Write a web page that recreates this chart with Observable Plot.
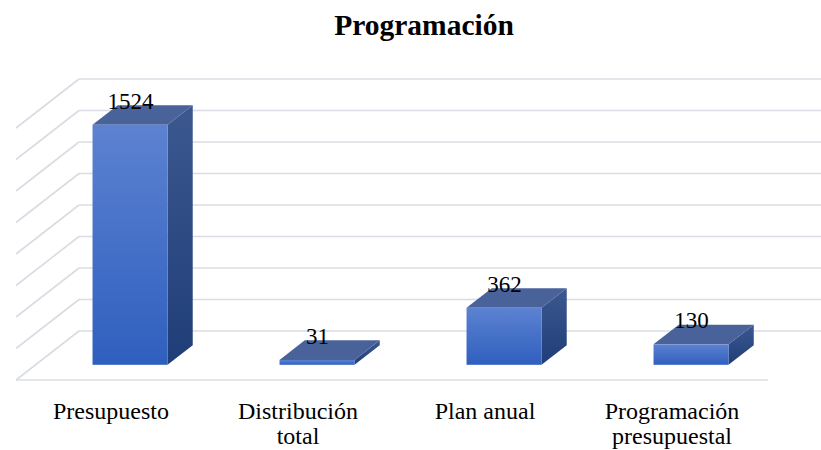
<!DOCTYPE html>
<html><head><meta charset="utf-8">
<script src="https://cdn.jsdelivr.net/npm/d3@7"></script>
<script src="https://cdn.jsdelivr.net/npm/@observablehq/plot@0.6"></script>
<style>
body{margin:0;background:#fff;}
#title{font:bold 29.5px "Liberation Serif","Times New Roman",serif;height:50px;line-height:50px;text-align:center;padding-left:27px;color:#000;}
#chart svg{display:block;}
</style></head><body>
<div id="title">Programación</div>
<div id="chart"></div>
<script>
const categories = ["Presupuesto", "Distribución\ntotal", "Plan anual", "Programación\npresupuestal"];
const values = [1524, 31, 362, 130];
const gridValues = [0, 200, 400, 600, 800, 1000, 1200, 1400, 1600];

// oblique 3D projection (styling constants)
const DEPTH_X = 63, DEPTH_Y = -49;
const BAR_FRONT = 0.31, BAR_BACK = 0.71;
const FONT = "'Liberation Serif','Times New Roman',serif";

const data = categories.map((c, i) => ({category: c, value: values[i]}));

function wallGrid(index, scales, channels, dims) {
  const {y} = scales;
  const L = dims.marginLeft, R = dims.width - dims.marginRight;
  const g = d3.create("svg:g").attr("fill", "none").attr("stroke", "#d9dce2").attr("stroke-width", 1.6);
  for (const i of index) {
    const v = gridValues[i];
    const yy = y(v);
    g.append("line").attr("x1", L + DEPTH_X).attr("x2", R + DEPTH_X).attr("y1", yy + DEPTH_Y).attr("y2", yy + DEPTH_Y);
    g.append("line").attr("x1", L).attr("x2", L + DEPTH_X).attr("y1", yy).attr("y2", yy + DEPTH_Y);
  }
  g.append("line").attr("x1", L).attr("x2", R + 2).attr("y1", y(0)).attr("y2", y(0));
  return g.node();
}

function bars3d(index, scales, channels, dims) {
  const {x, y} = scales;
  const bw = x.bandwidth();
  const g = d3.create("svg:g");
  const defs = g.append("defs");
  const fg = defs.append("linearGradient").attr("id", "frontGrad").attr("x1", 0).attr("x2", 0).attr("y1", 0).attr("y2", 1);
  fg.append("stop").attr("offset", "0%").attr("stop-color", "#5c82d1");
  fg.append("stop").attr("offset", "100%").attr("stop-color", "#2f5fbe");
  const sg = defs.append("linearGradient").attr("id", "sideGrad").attr("x1", 0).attr("x2", 0).attr("y1", 0).attr("y2", 1);
  sg.append("stop").attr("offset", "0%").attr("stop-color", "#3c5891");
  sg.append("stop").attr("offset", "100%").attr("stop-color", "#1f3d77");
  const ddx = (BAR_BACK - BAR_FRONT) * DEPTH_X, ddy = (BAR_BACK - BAR_FRONT) * DEPTH_Y;
  for (const i of index) {
    const d = data[i];
    const x0 = x(d.category) + BAR_FRONT * DEPTH_X, x1 = x0 + bw;
    const yb = y(0) + BAR_FRONT * DEPTH_Y, yt = y(d.value) + BAR_FRONT * DEPTH_Y;
    g.append("path").attr("fill", "url(#sideGrad)")
      .attr("d", `M${x1},${yt}L${x1 + ddx},${yt + ddy}L${x1 + ddx},${yb + ddy}L${x1},${yb}Z`);
    g.append("path").attr("fill", "#49639a")
      .attr("d", `M${x0},${yt}L${x1},${yt}L${x1 + ddx},${yt + ddy}L${x0 + ddx},${yt + ddy}Z`);
    g.append("rect").attr("x", x0).attr("y", yt).attr("width", bw).attr("height", Math.max(yb - yt, 0.5))
      .attr("fill", "url(#frontGrad)");
  }
  return g.node();
}

const chart = Plot.plot({
  width: 821,
  height: 400,
  marginLeft: 16,
  marginRight: 55,
  marginTop: 78,
  marginBottom: 70,
  style: {fontFamily: FONT, background: "#fff", color: "#000"},
  x: {domain: categories, paddingInner: 0.6, paddingOuter: 0.3},
  y: {domain: [0, 1600], axis: null},
  marks: [
    Plot.ruleY(gridValues, {y: d => d, render: wallGrid}),
    Plot.barY(data, {x: "category", y: "value", render: bars3d}),
    Plot.text(data, {x: "category", y: "value", text: d => String(d.value),
      dx: BAR_FRONT * DEPTH_X, dy: BAR_BACK * DEPTH_Y + 3, lineAnchor: "bottom",
      fontSize: 23, fontFamily: FONT, fill: "#000"}),
    Plot.axisX({tickSize: 0, tickPadding: 21, fontSize: 24, lineHeight: 1.04, fontFamily: FONT, label: null, fill: "#000"})
  ]
});
document.getElementById("chart").appendChild(chart);
</script>
</body></html>
